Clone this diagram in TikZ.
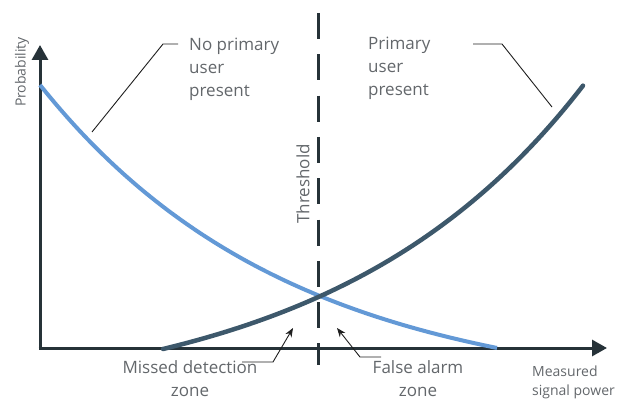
\documentclass[tikz,border=0pt]{standalone}
\usepackage{fontspec}
\setmainfont{Open Sans}
\usetikzlibrary{arrows.meta}
\definecolor{axisc}{HTML}{263238}
\definecolor{bluec}{HTML}{6399D6}
\definecolor{darkc}{HTML}{3D586B}
\definecolor{textc}{HTML}{63676B}
\definecolor{leadc}{HTML}{1E1E1E}
\begin{document}
\begin{tikzpicture}[x=1pt,y=-1pt,
  lbl/.style={text=textc,font=\fontsize{17}{23}\selectfont,inner sep=0pt},
  smalllbl/.style={text=textc,font=\fontsize{14}{19}\selectfont,inner sep=0pt},
  axisline/.style={draw=axisc,line width=3pt,-{Triangle[length=15pt,width=16pt]}},
  leader/.style={draw=leadc,line width=0.9pt},
  leaderarrow/.style={leader,-{Stealth[length=9pt,width=7pt]}}]
\useasboundingbox (0,0) rectangle (634,401);
% axes
\coordinate (origin) at (40,348);
\coordinate (ytip) at (40,45);
\coordinate (xtip) at (607,348);
\draw[axisline] ([yshift=1.5pt]origin) -- (ytip);
\draw[axisline] ([xshift=-1.5pt]origin) -- (xtip);
% threshold
\coordinate (thtop) at (318,13);
\coordinate (thbot) at (318,365);
\draw[draw=axisc,line width=3pt,dash pattern=on 26pt off 15.3pt] (thtop) -- (thbot);
% curves
\draw[bluec,line width=4pt] plot[domain=40:497,samples=120,variable=\t] ({\t},{348-313.4*(exp(-0.004*(\t-40))-0.1607)});
\draw[darkc,line width=4.5pt,line cap=round] plot[domain=163:583,samples=120,variable=\t] ({\t},{349-60.4*(exp(0.004*(\t-163))-1)});
% labels
\node[smalllbl,rotate=90] (prob) at (22,72) {Probability};
\node[lbl,rotate=90] (thr) at (303,184) {Threshold};
\node[lbl,align=left,anchor=west] (npu) at (189,69) {No primary\\user\\present};
\node[lbl,align=left,anchor=west] (pu) at (368,68) {Primary\\user\\present};
\node[lbl,align=center,text depth=0pt,anchor=south] (mdz) at (190,397) {Missed detection\\zone};
\node[lbl,align=center,text depth=0pt,anchor=south] (faz) at (418,397) {False alarm\\zone};
\node[smalllbl,align=left,anchor=west] (msp) at (532,382) {Measured\\signal power};
% leaders
\coordinate (npuA) at (178,44);
\coordinate (npuB) at (163,44);
\coordinate (npuC) at (92,132);
\draw[leader] (npuA) -- (npuB) -- (npuC);
\coordinate (puA) at (473,44);
\coordinate (puB) at (502,44);
\coordinate (puC) at (552,107);
\draw[leader] (puA) -- (puB) -- (puC);
\coordinate (mdA) at (242,362);
\coordinate (mdB) at (273,362);
\coordinate (mdC) at (293,328);
\draw[leaderarrow] (mdA) -- (mdB) -- (mdC);
\coordinate (faA) at (381,357);
\coordinate (faB) at (360,357);
\coordinate (faC) at (337,328);
\draw[leaderarrow] (faA) -- (faB) -- (faC);
\end{tikzpicture}
\end{document}
